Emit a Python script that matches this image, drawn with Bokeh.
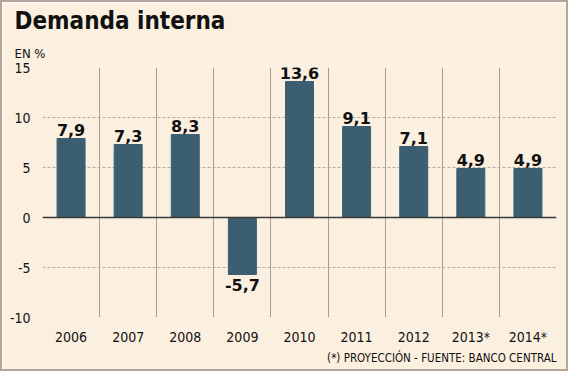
from bokeh.plotting import figure
from bokeh.models import Range1d, FixedTicker, Label, ColumnDataSource, Span, Title
from bokeh.embed import file_html
from bokeh.resources import INLINE

years = ["2006", "2007", "2008", "2009", "2010", "2011", "2012", "2013*", "2014*"]
values = [7.9, 7.3, 8.3, -5.7, 13.6, 9.1, 7.1, 4.9, 4.9]
value_labels = ["7,9", "7,3", "8,3", "-5,7", "13,6", "9,1", "7,1", "4,9", "4,9"]
y_ticks = [-10, -5, 0, 5, 10, 15]

BG = "#fbefdf"
BAR = "#3b5f71"
FONT = "DejaVu Sans"
COND = "DejaVu Sans Condensed"

xs = [i + 0.5 for i in range(len(years))]
src = ColumnDataSource(dict(x=xs, top=values))

p = figure(width=568, height=371, output_backend="svg", toolbar_location=None,
           x_range=Range1d(0, len(years)), y_range=Range1d(-10, 15),
           min_border_left=40, min_border_right=14, min_border_top=4, min_border_bottom=4)
p.background_fill_color = BG
p.border_fill_color = BG
p.outline_line_color = None
p.styles = {"border": "2px solid #b4a59b"}

p.vbar(x="x", top="top", bottom=0, width=0.49, color=BAR, source=src)

# grids
p.xgrid.ticker = FixedTicker(ticks=list(range(len(years) + 1)))
p.xgrid.grid_line_color = "#a59f97"
p.xgrid.grid_line_width = 1
p.ygrid.ticker = FixedTicker(ticks=[t for t in y_ticks if t != 0])
p.ygrid.grid_line_color = "#b3aca4"
p.ygrid.grid_line_dash = "3 2"

p.add_layout(Span(location=0, dimension="width", line_color="#3a3a3a", line_width=1.5))

# axes
p.yaxis.ticker = FixedTicker(ticks=y_ticks)
p.yaxis.major_label_overrides = {t: str(t) for t in y_ticks}
p.yaxis.axis_line_color = None
p.yaxis.major_tick_line_color = None
p.yaxis.minor_tick_line_color = None
p.yaxis.major_label_text_font = COND
p.yaxis.major_label_text_font_size = "14px"
p.yaxis.major_label_text_color = "#111111"
p.yaxis.major_label_standoff = 6

p.xaxis.ticker = FixedTicker(ticks=xs)
p.xaxis.major_label_overrides = {x: y for x, y in zip(xs, years)}
p.xaxis.axis_line_color = None
p.xaxis.major_tick_line_color = None
p.xaxis.minor_tick_line_color = None
p.xaxis.major_label_text_font = COND
p.xaxis.major_label_text_font_size = "14px"
p.xaxis.major_label_text_color = "#111111"
p.xaxis.major_label_standoff = 5

# value labels
for x, v, lab in zip(xs, values, value_labels):
    p.add_layout(Label(x=x, y=v, text=lab, text_align="center",
                       text_baseline="bottom" if v >= 0 else "top",
                       y_offset=3 if v >= 0 else -4,
                       text_font=FONT, text_font_style="bold", text_font_size="16px",
                       text_color="#111111"))

# titles & notes
p.title.text = "Demanda interna"
p.title.text_font = COND
p.title.text_font_size = "24px"
p.title.text_font_style = "bold"
p.title.text_color = "#111111"
p.title.offset = -28
p.title.standoff = 4
p.add_layout(Title(text="EN %", text_font=COND, text_font_style="normal",
                   text_font_size="13px", text_color="#111111", offset=-28, standoff=14), "above")
p.add_layout(Title(text="(*) PROYECCIÓN - FUENTE: BANCO CENTRAL", align="right",
                   text_font=COND, text_font_size="11.5px", text_font_style="normal",
                   text_color="#111111", standoff=2), "below")
p.add_layout(Title(text=" ", text_font_size="6px", standoff=0), "below")

open("out.html", "w").write(file_html(p, INLINE))
